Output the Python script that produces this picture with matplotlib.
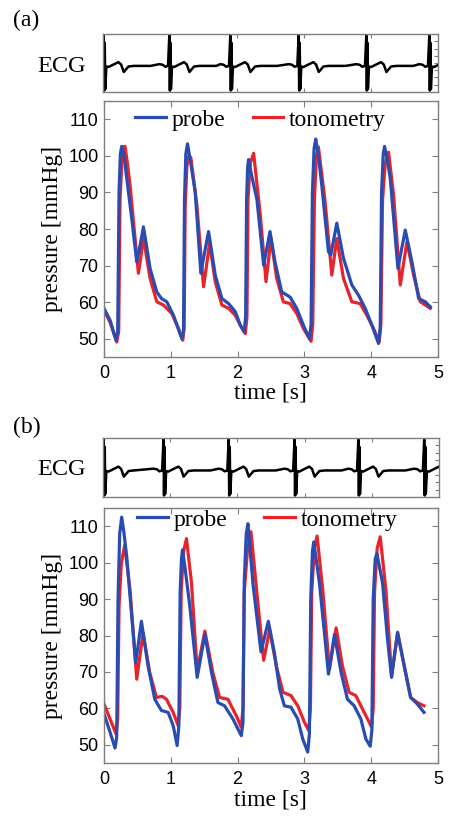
import numpy as np
import matplotlib
matplotlib.use('Agg')
import matplotlib.pyplot as plt

# --- pressure waveforms (time in s, pressure in mmHg)

# panel (a)
a_probe_t = [0.00, 0.09, 0.18, 0.205, 0.225, 0.245, 0.265, 0.30, 0.34, 0.415, 0.49, 0.54, 0.59, 0.64, 0.69,
             0.79, 0.86, 0.94, 1.04, 1.165, 1.19, 1.205, 1.225, 1.25, 1.29, 1.365, 1.45, 1.50, 1.565, 1.615,
             1.665, 1.765, 1.865, 1.965, 2.04, 2.10, 2.12, 2.135, 2.15, 2.165, 2.20, 2.29, 2.39, 2.485, 2.56,
             2.66, 2.785, 2.885, 2.985, 3.075, 3.10, 3.12, 3.145, 3.17, 3.21, 3.26, 3.36, 3.395, 3.485, 3.585,
             3.71, 3.81, 3.91, 4.01, 4.11, 4.135, 4.155, 4.18, 4.20, 4.24, 4.285, 4.40, 4.455, 4.51, 4.61,
             4.71, 4.81, 4.885]
a_probe_p = [58.3, 55.1, 49.6, 52.0, 90.0, 100.5, 102.6, 100.0, 93.9, 82.9, 71.0, 75.5, 80.6, 75.0, 69.2,
             62.8, 61.0, 60.1, 56.4, 50.0, 52.0, 88.0, 100.5, 103.3, 99.0, 90.2, 67.9, 73.0, 79.3, 73.5,
             67.4, 61.0, 59.6, 57.4, 53.7, 51.9, 56.0, 88.0, 97.0, 99.0, 95.5, 88.0, 70.1, 79.3, 71.0,
             62.8, 61.4, 58.3, 53.7, 50.0, 54.0, 90.0, 102.0, 104.6, 100.0, 92.0, 73.8, 72.9, 81.6, 72.0,
             64.7, 61.9, 58.3, 53.7, 48.7, 53.0, 90.0, 100.5, 102.6, 99.0, 93.9, 69.2, 74.5, 79.7, 71.0,
             61.0, 60.1, 58.7]

a_tono_t = [0.00, 0.09, 0.19, 0.22, 0.24, 0.27, 0.29, 0.315, 0.35, 0.39, 0.465, 0.515, 0.55, 0.59, 0.64,
            0.69, 0.79, 0.89, 1.015, 1.115, 1.18, 1.20, 1.215, 1.24, 1.27, 1.30, 1.39, 1.49, 1.535, 1.58,
            1.665, 1.765, 1.865, 1.965, 2.04, 2.115, 2.14, 2.155, 2.19, 2.24, 2.34, 2.425, 2.50, 2.585,
            2.685, 2.785, 2.885, 2.985, 3.10, 3.125, 3.15, 3.18, 3.21, 3.31, 3.41, 3.485, 3.585, 3.71,
            3.835, 3.935, 4.035, 4.12, 4.145, 4.17, 4.21, 4.26, 4.335, 4.435, 4.535, 4.635, 4.735, 4.885]
a_tono_p = [57.8, 54.5, 49.1, 52.0, 88.0, 99.0, 102.4, 102.6, 98.0, 92.0, 77.4, 67.9, 72.0, 77.9, 72.0,
            66.5, 60.1, 59.2, 56.9, 52.8, 49.6, 53.0, 86.0, 97.0, 100.0, 99.5, 86.6, 64.2, 70.0, 76.1,
            65.6, 59.2, 58.3, 56.4, 53.7, 51.4, 56.0, 88.0, 98.0, 100.7, 83.8, 65.6, 77.4, 66.5,
            60.1, 59.6, 56.9, 52.8, 49.3, 54.0, 88.0, 100.0, 102.4, 87.5, 67.4, 77.4, 66.5, 60.1,
            59.6, 56.4, 52.8, 49.1, 54.0, 88.0, 98.0, 101.0, 89.3, 64.7, 76.5, 67.4, 60.1, 58.3]

# panel (b)
b_probe_t = [0.00, 0.09, 0.165, 0.19, 0.21, 0.235, 0.265, 0.30, 0.34, 0.415, 0.475, 0.56, 0.66, 0.76,
             0.86, 0.96, 1.035, 1.095, 1.12, 1.14, 1.16, 1.175, 1.21, 1.285, 1.395, 1.51, 1.61, 1.705,
             1.805, 1.93, 2.055, 2.08, 2.10, 2.13, 2.155, 2.23, 2.35, 2.46, 2.55, 2.63, 2.70, 2.80, 2.90,
             2.975, 3.05, 3.075, 3.095, 3.12, 3.14, 3.225, 3.30, 3.36, 3.45, 3.55, 3.645, 3.745, 3.845,
             3.92, 3.985, 4.01, 4.03, 4.06, 4.085, 4.17, 4.245, 4.305, 4.395, 4.495, 4.59, 4.69, 4.79]
b_probe_p = [58.5, 53.5, 49.1, 52.0, 90.0, 108.0, 112.5, 108.0, 101.6, 85.3, 72.5, 83.9, 71.6, 62.5,
             59.4, 58.9, 55.3, 49.8, 55.0, 92.0, 101.0, 103.5, 99.0, 88.0, 68.5, 80.3, 69.8, 61.6,
             60.7, 57.1, 52.5, 56.0, 95.0, 108.0, 110.7, 94.2, 75.5, 83.9, 75.3, 65.3, 60.7, 60.3, 57.1,
             51.6, 48.0, 53.0, 90.0, 103.0, 105.7, 94.4, 80.7, 69.4, 80.3, 69.8, 62.5, 60.7, 57.1,
             51.6, 49.6, 54.0, 90.0, 101.0, 102.5, 94.4, 78.9, 68.5, 80.7, 71.6, 63.0, 61.2, 58.9]

b_tono_t = [0.00, 0.09, 0.18, 0.205, 0.225, 0.26, 0.31, 0.39, 0.49, 0.585, 0.685, 0.785, 0.87, 0.935,
            1.035, 1.11, 1.135, 1.155, 1.19, 1.235, 1.31, 1.395, 1.51, 1.63, 1.73, 1.855, 1.98, 2.055,
            2.08, 2.10, 2.15, 2.20, 2.30, 2.39, 2.48, 2.58, 2.68, 2.80, 2.90, 3.00, 3.065, 3.09, 3.11,
            3.15, 3.19, 3.275, 3.375, 3.475, 3.57, 3.67, 3.77, 3.87, 3.97, 4.005, 4.03, 4.05, 4.09,
            4.135, 4.22, 4.305, 4.395, 4.495, 4.59, 4.69, 4.79]
b_tono_p = [61.2, 57.1, 53.0, 57.0, 88.0, 100.0, 104.8, 92.5, 68.0, 80.7, 69.8, 63.0, 63.3, 62.5,
            58.9, 55.3, 60.0, 92.0, 103.0, 106.6, 94.4, 70.3, 81.2, 69.8, 63.0, 62.5, 58.0, 54.8,
            60.0, 92.0, 104.0, 108.5, 89.6, 73.2, 81.6, 71.6, 64.4, 63.5, 60.7, 56.2, 53.9, 60.0, 92.0,
            104.0, 107.3, 92.5, 70.7, 82.1, 71.6, 64.4, 63.5, 59.8, 56.2, 54.8, 60.0, 92.0, 104.0,
            107.1, 92.5, 68.9, 80.9, 71.6, 63.0, 61.6, 60.7]

# --- ECG: R-peak times and one beat shape (offset from R in s, arbitrary units)
a_ecg_beats = [0.01, 0.99, 1.90, 2.92, 3.93, 4.87]
b_ecg_beats = [0.01, 0.90, 1.87, 2.85, 3.80, 4.78]
ecg_dt = [-0.20, -0.15, -0.10, -0.06, -0.02, 0.0, 0.008, 0.016, 0.024, 0.04, 0.07, 0.14, 0.22,
          0.26, 0.30, 0.37, 0.45, 0.70]
ecg_v = [-0.10, -0.04, -0.06, -0.13, -0.10, 0.95, -0.95, 0.7, -0.9, -0.12, -0.14, -0.06, 0.03,
         -0.05, -0.31, -0.12, -0.10, -0.10]

blue = '#2a4cb2'
red = '#e8232b'
grey = '#7f7f7f'
serif = 'Liberation Serif'
sans = 'Liberation Sans'

W, H = 449, 816
fig = plt.figure(figsize=(W / 100, H / 100), dpi=100)


def box(l, t, r, b):
    return (l / W, 1 - b / H, (r - l) / W, (b - t) / H)


def ecg_curve(beats):
    t, v = [], []
    for i, tb in enumerate(beats):
        for dt, val in zip(ecg_dt, ecg_v):
            tt = tb + dt
            if i > 0 and dt < -0.15:
                continue
            if i + 1 < len(beats) and tt > beats[i + 1] - 0.2:
                continue
            t.append(tt)
            v.append(val)
    return t, v


def style(ax):
    for s in ax.spines.values():
        s.set_color(grey)
        s.set_linewidth(1.0)
    ax.tick_params(direction='in', color=grey, length=4, width=0.8,
                   top=True, right=True, labelsize=13, pad=4)
    for lab in ax.get_xticklabels() + ax.get_yticklabels():
        lab.set_fontfamily(sans)


panels = [
    ('(a)', (26, 20), (103, 34, 438, 92), (104, 101, 438, 357), a_ecg_beats,
     a_probe_t, a_probe_p, a_tono_t, a_tono_p, (0.093, 0.926), 1.15, 67, 393),
    ('(b)', (27, 427), (103, 438, 439, 497), (104, 508, 438, 763), b_ecg_beats,
     b_probe_t, b_probe_p, b_tono_t, b_tono_p, (0.099, 0.953), 1.55, 470, 800),
]

for (tag, tagpos, ebox, pbox, beats, pt, pp, tt, tp, legpos, colsp, ecg_y, xlab_y) in panels:
    fig.text(tagpos[0] / W, 1 - tagpos[1] / H, tag, family=serif, fontsize=17,
             ha='center', va='center')

    # ECG strip
    ax_e = fig.add_axes(box(*ebox))
    et, ev = ecg_curve(beats)
    ax_e.plot(et, ev, color='black', lw=1.8)
    ax_e.set_xlim(0, 5)
    ax_e.set_ylim(-1, 1)
    ax_e.set_xticks([1, 2, 3, 4])
    ax_e.set_yticks([-0.75, -0.5, -0.25, 0, 0.25, 0.5, 0.75])
    style(ax_e)
    ax_e.tick_params(labelbottom=False, labelleft=False, left=False, length=3)
    fig.text(62 / W, 1 - ecg_y / H, 'ECG', family=serif, fontsize=17.5,
             ha='center', va='center')

    # pressure
    ax = fig.add_axes(box(*pbox))
    ax.plot(tt, tp, color=red, lw=2.3, label='tonometry', solid_joinstyle='round')
    ax.plot(pt, pp, color=blue, lw=2.3, label='probe', solid_joinstyle='round')
    ax.set_xlim(0, 5)
    ax.set_ylim(45, 115)
    ax.set_xticks([0, 1, 2, 3, 4, 5])
    ax.set_yticks([50, 60, 70, 80, 90, 100, 110])
    style(ax)
    ax.tick_params(axis='x', pad=6)
    h, l = ax.get_legend_handles_labels()
    ax.legend(h[::-1], l[::-1], ncol=2, frameon=False, loc='center left',
              bbox_to_anchor=legpos, borderpad=0, borderaxespad=0,
              handlelength=1.3, handletextpad=0.25, columnspacing=colsp,
              prop={'family': serif, 'size': 17})
    ax.set_ylabel('pressure [mmHg]', family=serif, fontsize=17, labelpad=4)
    fig.text(270 / W, 1 - xlab_y / H, 'time [s]', family=serif, fontsize=17,
             ha='center', va='center')

fig.savefig('out.png', dpi=100)
